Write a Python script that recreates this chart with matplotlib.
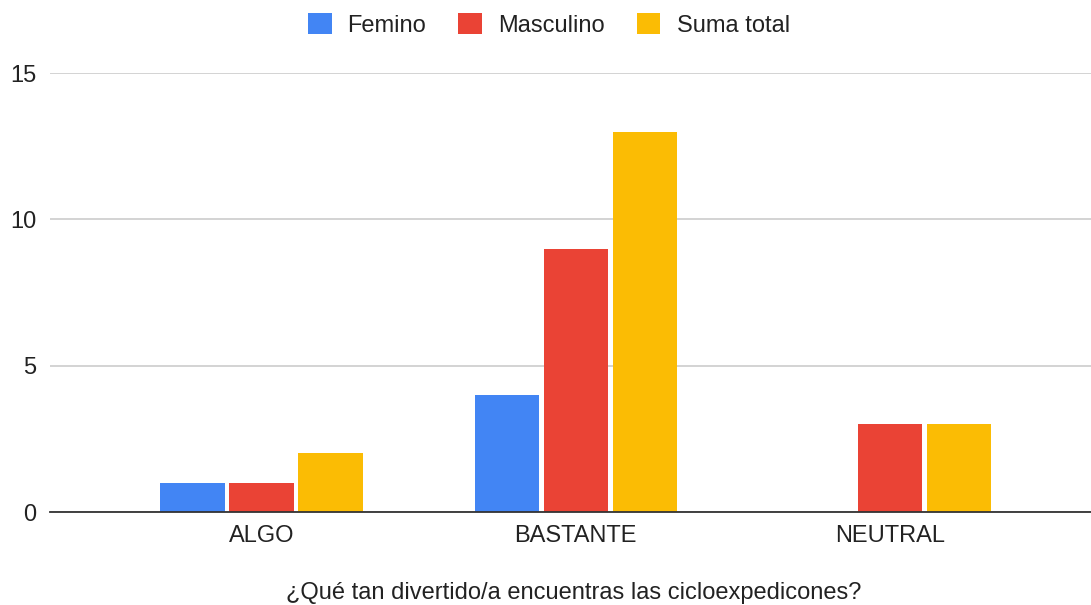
import matplotlib
matplotlib.use("Agg")
import matplotlib.pyplot as plt
import numpy as np

plt.rcParams['font.family'] = ['Liberation Sans', 'DejaVu Sans']

categories = ["ALGO", "BASTANTE", "NEUTRAL"]
series_names = ["Femino", "Masculino", "Suma total"]
femino = [1, 4, 0]
masculino = [1, 9, 3]
suma_total = [2, 13, 3]
y_ticks = [0, 5, 10, 15]
x_title = "¿Qué tan divertido/a encuentras las cicloexpedicones?"

colors = ["#4285F4", "#EA4335", "#FBBC04"]
FS = 17

fig = plt.figure(figsize=(10.91, 6.05), dpi=100)
ax = fig.add_axes([0.0458, 0.1537, 0.9542, 0.7256])

x = np.arange(len(categories))
step = 0.2195
width = 0.205
for i, (vals, name, c) in enumerate(zip([femino, masculino, suma_total], series_names, colors)):
    ax.bar(x + (i - 1) * step, vals, width=width, color=c, label=name, zorder=3)

ax.set_xlim(-0.673, 2.639)
ax.set_ylim(0, 15)
ax.set_yticks(y_ticks)
ax.set_yticklabels([str(t) for t in y_ticks])
ax.set_xticks(x)
ax.set_xticklabels(categories)
ax.tick_params(axis='both', length=0, labelsize=FS, colors="#222222")
ax.tick_params(axis='y', pad=10)
ax.tick_params(axis='x', pad=9)
ax.grid(axis='y', color="#cccccc", linewidth=1.2, zorder=0)
for s in ["top", "right", "left"]:
    ax.spines[s].set_visible(False)
ax.spines["bottom"].set_color("#333333")
ax.spines["bottom"].set_linewidth(1.3)
ax.spines["bottom"].set_zorder(4)

fig.text(0.526, (605 - 593) / 605, x_title, ha="center", va="center", fontsize=FS, color="#222222")

leg = fig.legend(loc="center", bbox_to_anchor=(0.503, 1 - 25 / 605), ncol=3, frameon=False,
                 fontsize=FS, handlelength=1.0, handleheight=1.0, columnspacing=1.36,
                 handletextpad=0.68, labelcolor="#222222", borderaxespad=0)

fig.savefig("out.png", dpi=100)
